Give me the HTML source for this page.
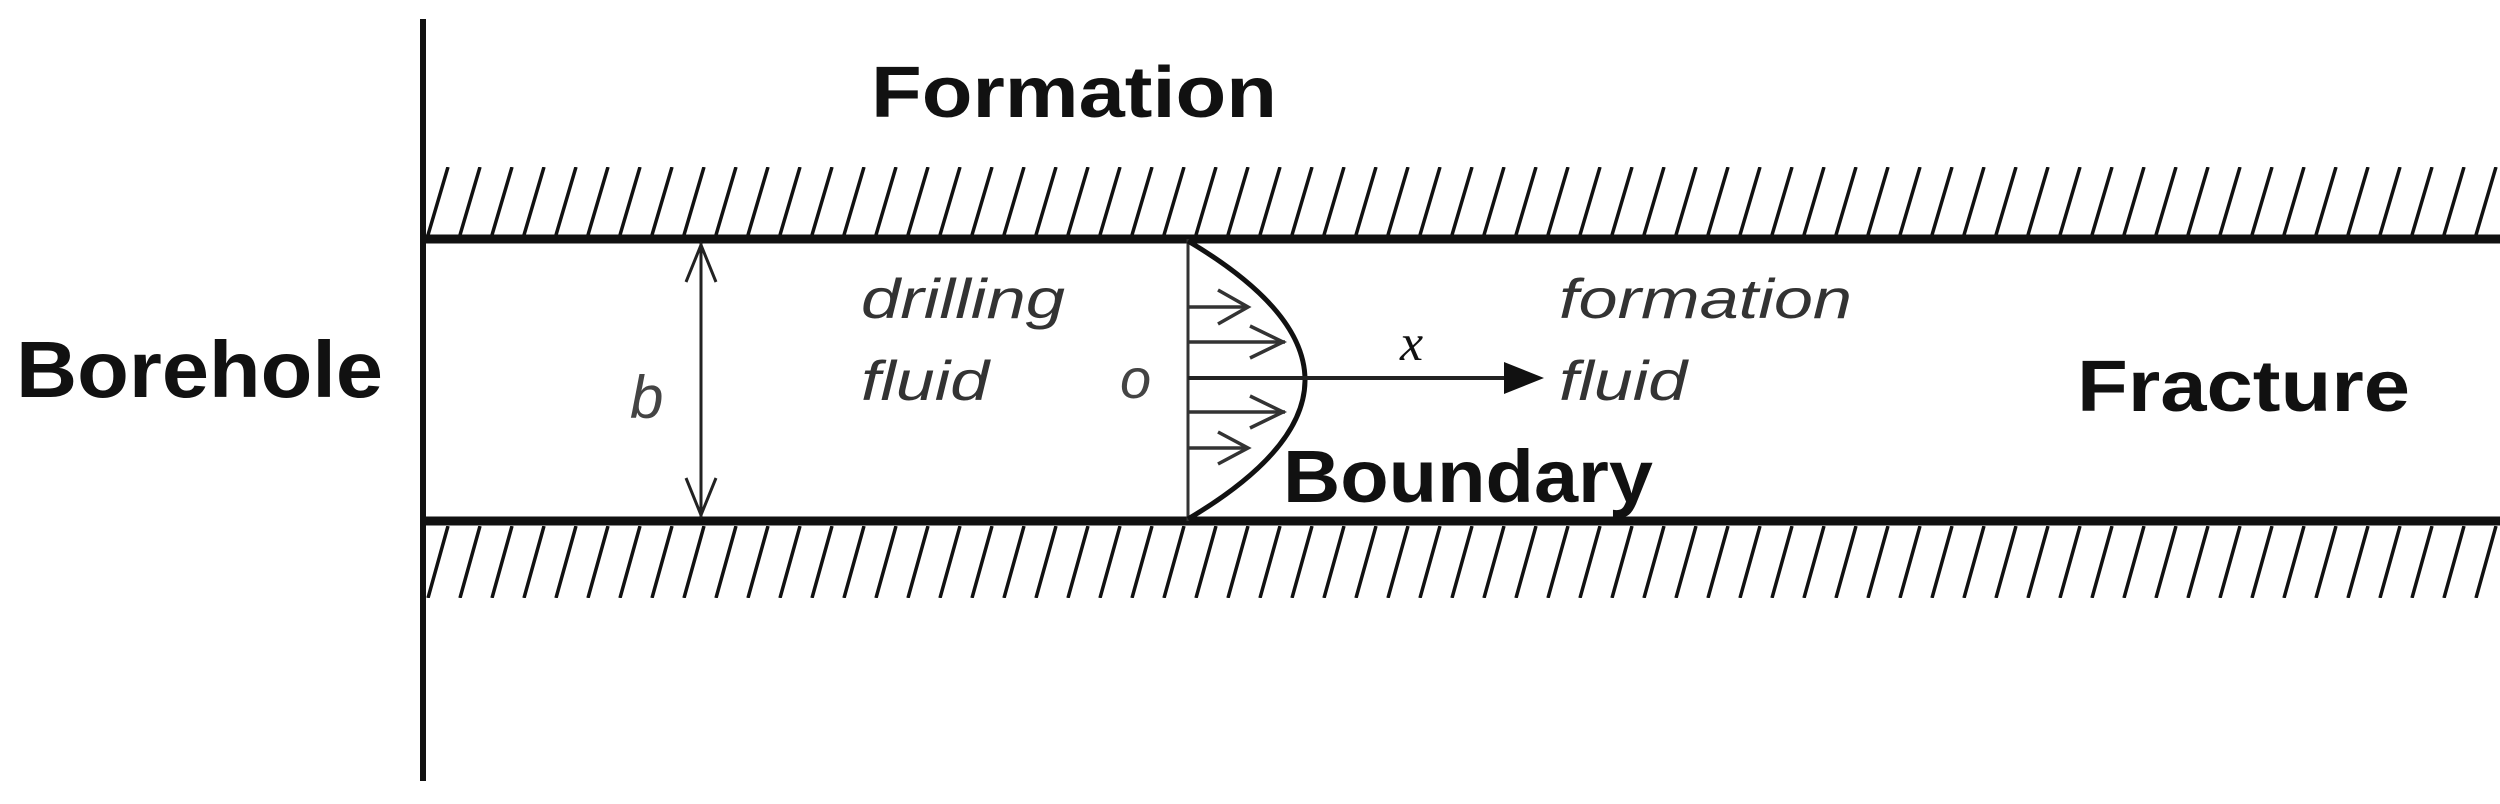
<!DOCTYPE html>
<html><head><meta charset="utf-8"><style>
html,body{margin:0;padding:0;background:#fff;}
svg{display:block;}
</style></head><body>
<svg width="2500" height="804" viewBox="0 0 2500 804" xmlns="http://www.w3.org/2000/svg">
<defs>
<pattern id="h1" patternUnits="userSpaceOnUse" x="426" y="167" width="32" height="68">
<line x1="2" y1="68" x2="22" y2="0" stroke="#111" stroke-width="3.5"/>
</pattern>
<pattern id="h2" patternUnits="userSpaceOnUse" x="426" y="526" width="32" height="72">
<line x1="2" y1="72" x2="22" y2="0" stroke="#111" stroke-width="3.5"/>
</pattern>
</defs>
<rect x="0" y="0" width="2500" height="804" fill="#fff"/>
<rect x="426" y="167" width="2074" height="68" fill="url(#h1)"/>
<rect x="426" y="526" width="2074" height="72" fill="url(#h2)"/>
<line x1="423" y1="19" x2="423" y2="781" stroke="#111" stroke-width="6"/>
<line x1="420" y1="239" x2="2500" y2="239" stroke="#111" stroke-width="9"/>
<line x1="420" y1="521" x2="2500" y2="521" stroke="#111" stroke-width="9"/>
<!-- b dimension -->
<line x1="701" y1="243" x2="701" y2="517" stroke="#222" stroke-width="3"/>
<polyline points="686,282 701,245 716,282" fill="none" stroke="#222" stroke-width="3"/>
<polyline points="686,478 701,515 716,478" fill="none" stroke="#222" stroke-width="3"/>
<!-- profile -->
<line x1="1188" y1="239" x2="1188" y2="521" stroke="#333" stroke-width="3"/>
<path d="M1188,241 Q1422,380 1188,519" fill="none" stroke="#111" stroke-width="5"/>
<g stroke="#333" stroke-width="3.5" fill="none">
<line x1="1188" y1="307" x2="1248" y2="307"/>
<line x1="1188" y1="342" x2="1285" y2="342"/>
<line x1="1188" y1="412" x2="1285" y2="412"/>
<line x1="1188" y1="448" x2="1248" y2="448"/>
<polyline points="1218,290 1248,307 1218,324"/>
<polyline points="1250,326 1283,342 1250,358"/>
<polyline points="1250,396 1283,412 1250,428"/>
<polyline points="1218,432 1248,448 1218,464"/>
</g>
<line x1="1188" y1="378" x2="1510" y2="378" stroke="#222" stroke-width="4"/>
<polygon points="1504,362 1544,378 1504,394" fill="#111"/>
<!-- labels -->
<g font-family="Liberation Sans, sans-serif" font-weight="bold" fill="#111">
<text x="871" y="117" font-size="72" textLength="406" lengthAdjust="spacingAndGlyphs">Formation</text>
<text x="16" y="397" font-size="80" textLength="367" lengthAdjust="spacingAndGlyphs">Borehole</text>
<text x="2077" y="411" font-size="72" textLength="333" lengthAdjust="spacingAndGlyphs">Fracture</text>
<text x="1283" y="502" font-size="74" textLength="370" lengthAdjust="spacingAndGlyphs">Boundary</text>
</g>
<g font-family="Liberation Sans, sans-serif" font-style="italic" fill="#333">
<text x="861" y="318" font-size="56" textLength="204" lengthAdjust="spacingAndGlyphs">drilling</text>
<text x="861" y="400" font-size="56" textLength="128" lengthAdjust="spacingAndGlyphs">fluid</text>
<text x="1559" y="318" font-size="56" textLength="293" lengthAdjust="spacingAndGlyphs">formation</text>
<text x="1559" y="400" font-size="56" textLength="128" lengthAdjust="spacingAndGlyphs">fluid</text>
<text x="1120" y="398" font-size="56" fill="#444">o</text>
<text x="630" y="418" font-size="60" fill="#444">b</text>
</g>
<text x="1400" y="360" font-family="Liberation Serif, serif" font-style="italic" font-size="52" fill="#111">x</text>
</svg>
</body></html>
